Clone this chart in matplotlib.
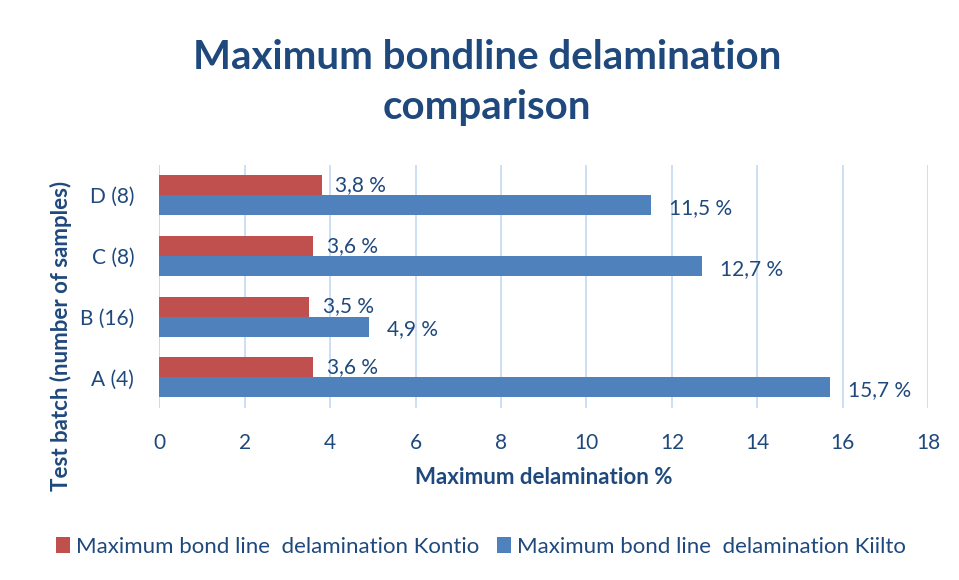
import matplotlib
matplotlib.use("Agg")
import matplotlib.pyplot as plt
import numpy as np

plt.rcParams['font.family'] = ['Lato', 'DejaVu Sans']

batches = ["A (4)", "B (16)", "C (8)", "D (8)"]
kontio = [3.6, 3.5, 3.6, 3.8]
kiilto = [15.7, 4.9, 12.7, 11.5]
kontio_labels = ["3,6 %", "3,5 %", "3,6 %", "3,8 %"]
kiilto_labels = ["15,7 %", "4,9 %", "12,7 %", "11,5 %"]

text_col = "#1F497D"
red = "#C0504D"
blue = "#4F81BD"

fig = plt.figure(figsize=(9.59, 5.8), dpi=100)
ax = fig.add_axes([0.166, 0.297, 0.802, 0.419])

y = np.arange(len(batches))
h = 0.33
rb = ax.barh(y + h / 2, kontio, height=h, color=red, label="Maximum bond line  delamination Kontio")
bb = ax.barh(y - h / 2, kiilto, height=h, color=blue, label="Maximum bond line  delamination Kiilto")

for bar, lab in zip(rb, kontio_labels):
    ax.annotate(lab, (bar.get_width(), bar.get_y() + bar.get_height() / 2),
                xytext=(10, 0), textcoords="offset points", va="center", ha="left",
                fontsize=15, color=text_col)
for bar, lab in zip(bb, kiilto_labels):
    ax.annotate(lab, (bar.get_width(), bar.get_y() + bar.get_height() / 2),
                xytext=(13, -2), textcoords="offset points", va="center", ha="left",
                fontsize=15, color=text_col)

ax.set_xlim(0, 18)
ax.set_ylim(-0.5, 3.5)
ax.set_xticks(range(0, 19, 2))
ax.set_yticks(y)
ax.set_yticklabels(batches)
ax.tick_params(axis="both", length=0, labelsize=15, labelcolor=text_col)
ax.tick_params(axis="x", pad=18)
ax.tick_params(axis="y", pad=18)
ax.grid(axis="x", color="#C6D9F1", linewidth=1.2)
ax.set_axisbelow(True)
for s in ax.spines.values():
    s.set_visible(False)
ax.axvline(0, color="#C6D9F1", linewidth=1.2, zorder=0)

ax.set_xlabel("Maximum delamination %", fontsize=16, fontweight="bold", color=text_col, labelpad=10)
ax.set_ylabel("Test batch (number of samples)", fontsize=16, fontweight="bold", color=text_col)
ax.yaxis.set_label_coords(-0.113, 0.295)

fig.text(0.508, 0.858, "Maximum bondline delamination\ncomparison", ha="center", va="center",
         fontsize=29, fontweight="bold", color=text_col, linespacing=1.45)

fig.legend(loc="center", bbox_to_anchor=(0.502, 0.057), ncol=2, frameon=False, fontsize=16,
           labelcolor=text_col, handlelength=0.6, handleheight=0.7, handletextpad=0.3,
           columnspacing=0.8)

fig.savefig("out.png", dpi=100)
